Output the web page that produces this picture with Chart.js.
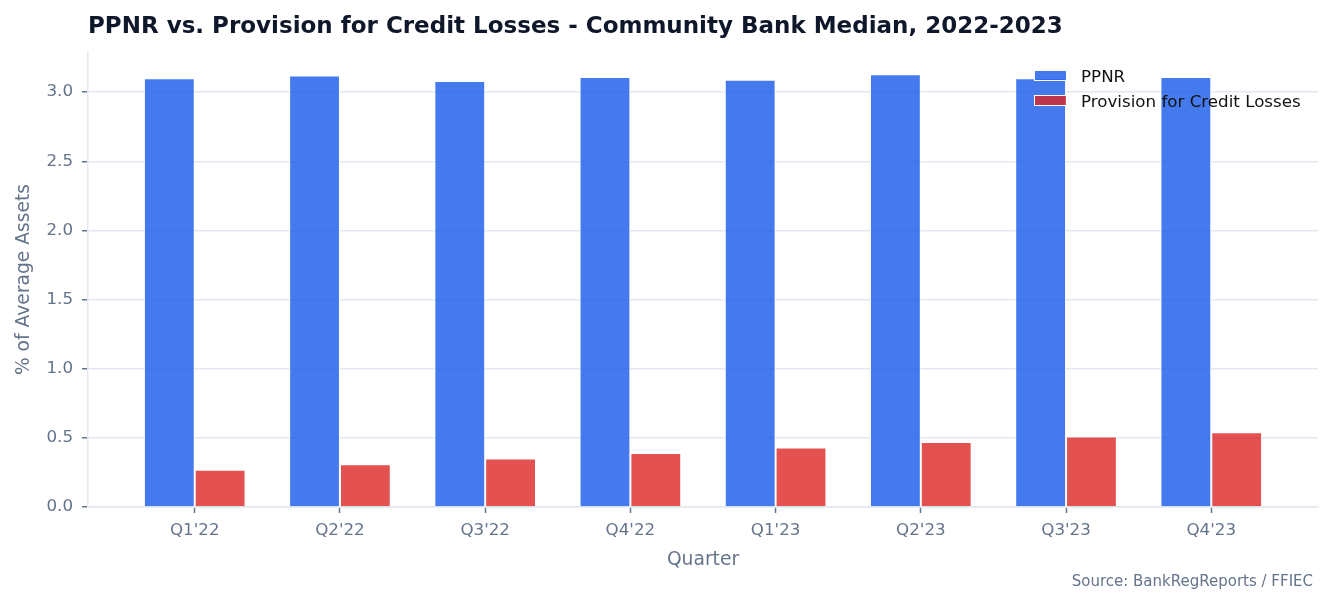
<!DOCTYPE html>
<html>
<head>
<meta charset="utf-8">
<script src="https://cdn.jsdelivr.net/npm/chart.js@4/dist/chart.umd.min.js"></script>
<style>
  html, body { margin: 0; padding: 0; background: #fff; }
  canvas { display: block; }
</style>
</head>
<body>
<canvas id="chart" width="1332" height="605"></canvas>
<script>
const QUARTERS = ["Q1'22", "Q2'22", "Q3'22", "Q4'22", "Q1'23", "Q2'23", "Q3'23", "Q4'23"];
const PPNR = [3.10, 3.12, 3.08, 3.11, 3.09, 3.13, 3.10, 3.11];
const PROVISION = [0.27, 0.31, 0.35, 0.39, 0.43, 0.47, 0.51, 0.54];
const Y_TICKS = [0.0, 0.5, 1.0, 1.5, 2.0, 2.5, 3.0];

const FONT = "'DejaVu Sans', sans-serif";
const GRID = '#e2e8f0';
const MUTED = '#64748b';

// title, axis titles, source and the in-plot legend (drawn over the bars)
const overlay = {
  id: 'overlay',
  afterDraw (chart) {
    const ctx = chart.ctx, area = chart.chartArea
    ctx.save()

    ctx.fillStyle = '#0f172a'
    ctx.font = `bold 23px ${FONT}`
    ctx.textAlign = 'left'
    ctx.textBaseline = 'alphabetic'
    ctx.fillText('PPNR vs. Provision for Credit Losses - Community Bank Median, 2022-2023', area.left, 33)

    ctx.fillStyle = MUTED
    ctx.font = `18.7px ${FONT}`
    ctx.textAlign = 'center'
    ctx.fillText('Quarter', (area.left + area.right) / 2, 565)

    ctx.save()
    ctx.translate(28.5, (area.top + area.bottom) / 2)
    ctx.rotate(-Math.PI / 2)
    ctx.fillText('% of Average Assets', 0, 0)
    ctx.restore()

    ctx.font = `15px ${FONT}`
    ctx.textAlign = 'right'
    ctx.fillText('Source: BankRegReports / FFIEC', 1313, 586)

    ctx.font = `16.7px ${FONT}`
    ctx.textAlign = 'left'
    chart.data.datasets.forEach((ds, i) => {
      const y = 70 + i * 25
      ctx.fillStyle = ds.backgroundColor
      ctx.fillRect(1034, y, 33, 11)
      ctx.strokeStyle = '#ffffff'
      ctx.lineWidth = 1
      ctx.strokeRect(1034.5, y + 0.5, 32, 10)
      ctx.fillStyle = '#111111'
      ctx.fillText(ds.label, 1081, y + 11.5)
    })

    ctx.restore()
  }
}

const ctx = document.getElementById('chart').getContext('2d')
const chart = new Chart(ctx, {
  type: 'bar',
  data: {
    datasets: [
      {
        label: 'PPNR',
        data: PPNR.map((v, i) => ({ x: i, y: v })),
        backgroundColor: 'rgba(37, 99, 235, 0.85)',
        borderColor: '#ffffff',
        borderWidth: 1
      },
      {
        label: 'Provision for Credit Losses',
        data: PROVISION.map((v, i) => ({ x: i, y: v })),
        backgroundColor: 'rgba(220, 38, 38, 0.8)',
        borderColor: '#ffffff',
        borderWidth: 1
      }
    ]
  },
  options: {
    responsive: false,
    animation: false,
    categoryPercentage: 0.7,
    barPercentage: 1.0,
    layout: { padding: { top: 52, right: 14, left: 0, bottom: 0 } },
    plugins: {
      legend: { display: false },
      title: { display: false },
      tooltip: { enabled: false }
    },
    scales: {
      x: {
        type: 'linear',
        offset: false,
        min: -0.735,
        max: QUARTERS.length - 1 + 0.735,
        afterBuildTicks: scale => { scale.ticks = QUARTERS.map((q, i) => ({ value: i })) },
        afterFit: scale => { scale.height = 98 },
        grid: { offset: false, drawOnChartArea: false, drawTicks: true, tickLength: 6, tickColor: MUTED, tickWidth: 1.5 },
        border: { color: GRID, width: 1.5 },
        ticks: {
          color: MUTED,
          font: { family: FONT, size: 16.7 },
          padding: 8,
          maxRotation: 0,
          autoSkip: false,
          callback: value => QUARTERS[value]
        }
      },
      y: {
        min: 0,
        max: 3.29,
        afterBuildTicks: scale => { scale.ticks = Y_TICKS.map(v => ({ value: v })) },
        afterFit: scale => { scale.width = 88 },
        grid: { color: GRID, lineWidth: 1.5, tickLength: 6, tickColor: MUTED, tickWidth: 1.5 },
        border: { color: GRID, width: 1.5 },
        ticks: {
          color: MUTED,
          font: { family: FONT, size: 16.7 },
          padding: 9,
          callback: value => value.toFixed(1)
        }
      }
    }
  },
  plugins: [overlay]
})
</script>
</body>
</html>
